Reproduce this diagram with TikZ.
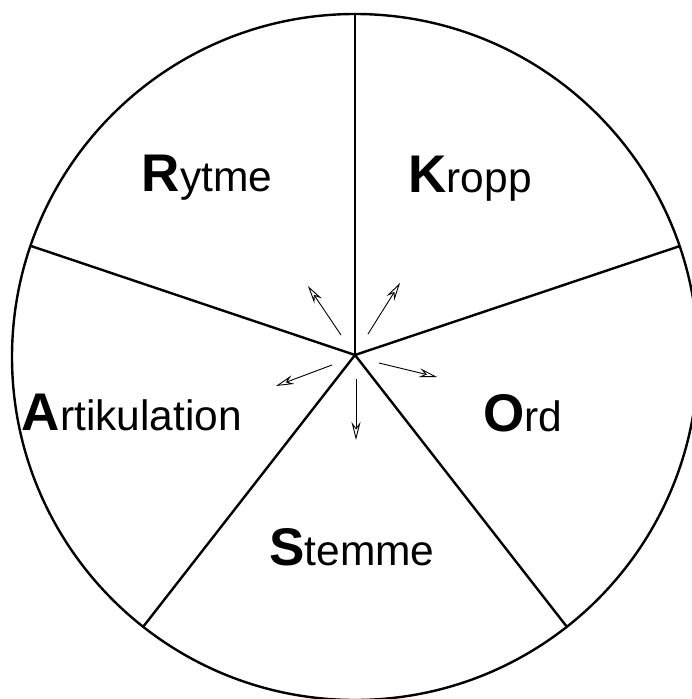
\documentclass[tikz,border=0pt]{standalone}
\usepackage{fontspec}
\setmainfont{Liberation Sans}
\usetikzlibrary{arrows.meta}
\begin{document}
\begin{tikzpicture}[x=1pt,y=-1pt,
  heavy/.style={line width=2.4pt},
  dirarrow/.style={line width=0.9pt,-{Stealth[length=18pt,width=9pt,inset=6pt,open]}},
  lab/.style={anchor=base,inner sep=0pt}]
\useasboundingbox (0,0) rectangle (692,699);
\clip (0,0) rectangle (692,699);
\newcommand{\seglabel}[2]{{\fontsize{53}{53}\selectfont\bfseries #1}{\fontsize{42.5}{42.5}\selectfont #2}}
\coordinate (c) at (355,357);
\coordinate (hub) at (355,355);
\coordinate (pT) at (355,14);
\coordinate (pUR) at (680,246);
\coordinate (pUL) at (31,246);
\coordinate (pLR) at (567,627);
\coordinate (pLL) at (143,627);
\draw[heavy] (c) circle[radius=343];
\draw[heavy] (hub) -- (pT);
\draw[heavy] (hub) -- (pUR);
\draw[heavy] (hub) -- (pUL);
\draw[heavy] (hub) -- (pLR);
\draw[heavy] (hub) -- (pLL);
% arrows
\coordinate (a1s) at (341,335); \coordinate (a1e) at (308,286);
\coordinate (a2s) at (368,334); \coordinate (a2e) at (400,283);
\coordinate (a3s) at (379,363); \coordinate (a3e) at (437,377);
\coordinate (a4s) at (356,379); \coordinate (a4e) at (356,440);
\coordinate (a5s) at (332,365); \coordinate (a5e) at (276,386);
\draw[dirarrow] (a1s) -- (a1e);
\draw[dirarrow] (a2s) -- (a2e);
\draw[dirarrow] (a3s) -- (a3e);
\draw[dirarrow] (a4s) -- (a4e);
\draw[dirarrow] (a5s) -- (a5e);
% labels
\node[lab] (rytme) at (207,191) {\seglabel{R}{ytme}};
\node[lab] (kropp) at (470,192) {\seglabel{K}{ropp}};
\node[lab] (artik) at (132,430) {\seglabel{A}{rtikulation}};
\node[lab] (ord) at (523,431) {\seglabel{O}{rd}};
\node[lab] (stemme) at (352,565) {\seglabel{S}{temme}};
\end{tikzpicture}
\end{document}
